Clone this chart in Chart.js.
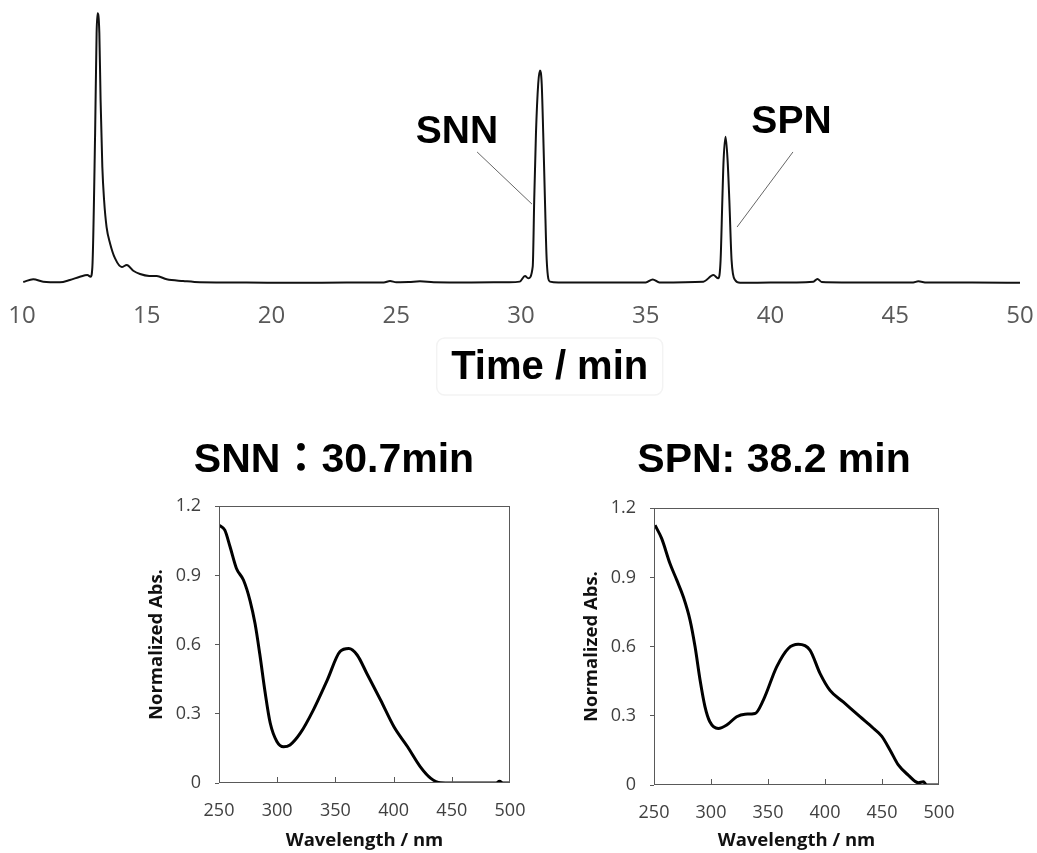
<!DOCTYPE html>
<html>
<head>
<meta charset="utf-8">
<script src="https://cdn.jsdelivr.net/npm/chart.js@4.4.1/dist/chart.umd.min.js"></script>
<style>
  html, body { margin: 0; padding: 0; background: #fff; }
  body { width: 1037px; height: 853px; position: relative; overflow: hidden; }
  .panel { position: absolute; }
</style>
</head>
<body>
<div class="panel" style="left:0;top:0;width:1037px;height:400px"><canvas id="chrom"></canvas></div>
<div class="panel" style="left:110px;top:420px;width:420px;height:433px"><canvas id="snn"></canvas></div>
<div class="panel" style="left:545px;top:422px;width:420px;height:431px"><canvas id="spn"></canvas></div>
<script>
// HPLC trace (time in min, detector signal in arbitrary units)
const chromTime = [10.05, 10.45, 10.85, 11.52, 11.92, 12.32, 12.62, 12.75, 12.82, 12.93, 12.99, 13.03, 13.1, 13.15,
  13.22, 13.29, 13.39, 13.53, 13.73, 14.0, 14.2, 14.46, 14.73, 15.1, 15.4, 15.8, 16.46, 17.13, 19.0, 21.0, 23.0,
  24.5, 24.75, 25.0, 25.5, 25.95, 26.5, 28.0, 29.5, 29.95, 30.16, 30.29, 30.47, 30.53, 30.6, 30.69, 30.76, 30.83,
  30.89, 30.96, 31.03, 31.16, 31.5, 33.0, 35.0, 35.28, 35.55, 37.31, 37.71, 37.91, 38.0, 38.07, 38.12, 38.2, 38.28,
  38.35, 38.44, 38.58, 38.78, 40.0, 41.72, 41.88, 42.05, 44.0, 45.72, 45.92, 46.26, 48.0, 50.0];
const chromSignal = [0.37, 1.35, 0.48, 0.26, 1.1, 2.3, 2.93, 2.3, 5.8, 54.6, 91.5, 98.8, 91.5, 67,
  42.5, 30.4, 20.5, 14.5, 9.0, 5.85, 6.6, 4.5, 3.3, 2.6, 2.56, 1.36, 0.73, 0.26, 0.15, 0.1, 0.15,
  0.2, 0.7, 0.3, 0.35, 0.6, 0.3, 0.2, 0.3, 0.5, 2.56, 1.7, 6, 30.4, 54.9, 73, 77.8, 73,
  55, 30.4, 8.4, 0.5, 0.2, 0.2, 0.2, 1.3, 0.2, 0.5, 2.9, 1.7, 8.4, 30.4, 45, 53.6, 45,
  30.4, 8.4, 1.1, 0.1, 0.15, 0.5, 1.5, 0.4, 0.2, 0.2, 0.6, 0.2, 0.15, 0.1];
const timeTicks = [10, 15, 20, 25, 30, 35, 40, 45, 50];

// UV-vis spectra of the two peaks
const snnWavelength = [250, 255, 259.5, 265, 271, 276.7, 281, 285, 289.7, 294, 299.7, 305.5, 311, 320, 331, 343,
  354, 361.5, 368.7, 377, 388.8, 400.3, 412, 423, 432, 440.5, 450, 470, 488, 491, 494, 500];
const snnAbs = [1.118, 1.096, 1.024, 0.93, 0.88, 0.79, 0.69, 0.56, 0.39, 0.26, 0.18, 0.157, 0.165, 0.217, 0.316, 0.446,
  0.57, 0.583, 0.555, 0.475, 0.36, 0.244, 0.157, 0.07, 0.02, 0.001, 0, 0, 0, 0.008, 0, 0];
const spnWavelength = [250.9, 256.7, 264, 270, 275.7, 281.6, 286, 290.4, 294.7, 299, 306.4, 313.8, 322.5, 329.8, 338.6,
  345.9, 357.6, 367.8, 376.6, 386.8, 395.6, 404.4, 416, 430.7, 442.4, 449.7, 457, 464.3, 473, 481.9, 486.3, 489, 500];
const spnAbs = [1.126, 1.069, 0.96, 0.888, 0.816, 0.715, 0.6, 0.455, 0.34, 0.274, 0.245, 0.26, 0.296, 0.307, 0.31,
  0.368, 0.512, 0.592, 0.61, 0.585, 0.484, 0.41, 0.36, 0.296, 0.246, 0.212, 0.152, 0.087, 0.043, 0.01, 0.014, 0, 0];
const wavelengthTicks = [250, 300, 350, 400, 450, 500];
const absTicks = [0, 0.3, 0.6, 0.9, 1.2];

// peak labels with their leader lines, in data units of the trace
const peakNames = ['SNN', 'SPN'];
const labelAt = [[27.43, 55.3], [40.84, 58.8]];
const leaderFrom = [[28.24, 48], [40.9, 48]];
const leaderTo = [[30.44, 28.9], [38.66, 20.5]];
const timeTitle = 'Time / min';
const timeTitleAt = 31.15;

const toPoints = (xs, ys) => xs.map((x, i) => ({ x: x, y: ys[i] }));

const peakLabelPlugin = {
  id: 'peakLabels',
  afterDatasetsDraw(chart) {
    const { ctx, scales: { x, y } } = chart;
    ctx.save();
    ctx.strokeStyle = '#666';
    ctx.lineWidth = 1;
    ctx.fillStyle = '#000';
    ctx.font = 'bold 39px "Liberation Sans", Arial, sans-serif';
    ctx.textAlign = 'center';
    ctx.textBaseline = 'middle';
    peakNames.forEach((name, i) => {
      ctx.beginPath();
      ctx.moveTo(x.getPixelForValue(leaderFrom[i][0]), y.getPixelForValue(leaderFrom[i][1]));
      ctx.lineTo(x.getPixelForValue(leaderTo[i][0]), y.getPixelForValue(leaderTo[i][1]));
      ctx.stroke();
      ctx.fillText(name, x.getPixelForValue(labelAt[i][0]), y.getPixelForValue(labelAt[i][1]));
    });

    // time axis title in its faint frame, below the tick labels
    const cx = x.getPixelForValue(timeTitleAt);
    const cy = x.bottom - 32;
    ctx.strokeStyle = '#f3f3f3';
    ctx.lineWidth = 1.5;
    ctx.beginPath();
    ctx.roundRect(cx - 113, cy - 30, 226, 57, 8);
    ctx.stroke();
    ctx.font = 'bold 40px "Liberation Sans", Arial, sans-serif';
    ctx.fillText(timeTitle, cx, cy);
    ctx.restore();
  }
};

// box around the plot area plus short inward ticks on the wavelength axis
const framePlugin = {
  id: 'frame',
  afterDatasetsDraw(chart) {
    const { ctx, chartArea: a, scales: { x } } = chart;
    ctx.save();
    ctx.strokeStyle = '#595959';
    ctx.lineWidth = 1;
    ctx.strokeRect(Math.round(a.left) + 0.5, Math.round(a.top) + 0.5,
      Math.round(a.right - a.left) - 1, Math.round(a.bottom - a.top) - 1);
    ctx.beginPath();
    x.ticks.forEach(t => {
      if (t.value <= x.min || t.value >= x.max) return;
      const px = Math.round(x.getPixelForValue(t.value)) + 0.5;
      ctx.moveTo(px, a.bottom);
      ctx.lineTo(px, a.bottom - 6);
    });
    ctx.stroke();
    ctx.restore();
  }
};

new Chart(document.getElementById('chrom'), {
  type: 'line',
  data: {
    datasets: [{
      data: toPoints(chromTime, chromSignal),
      borderColor: '#111',
      borderWidth: 2,
      pointRadius: 0,
      cubicInterpolationMode: 'monotone',
      clip: false
    }]
  },
  options: {
    responsive: true,
    maintainAspectRatio: false,
    animation: false,
    devicePixelRatio: 1,
    layout: { padding: { left: 22, right: 17, top: 10, bottom: 0 } },
    plugins: { legend: { display: false }, tooltip: { enabled: false } },
    scales: {
      x: {
        type: 'linear',
        min: 10,
        max: 50,
        afterBuildTicks: s => { s.ticks = timeTicks.map(v => ({ value: v })); },
        afterFit: s => { s.height = 117; },
        // hidden tick marks still push the labels down
        grid: { display: false, drawTicks: true, tickLength: 19 },
        border: { display: false },
        ticks: {
          padding: 0,
          color: '#595959',
          font: { family: '"Open Sans", sans-serif', size: 24 }
        }
      },
      y: { display: false, min: 0, max: 100 }
    }
  },
  plugins: [peakLabelPlugin]
});

function spectrumChart(id, titleText, xs, ys, geo) {
  return new Chart(document.getElementById(id), {
    type: 'line',
    data: {
      datasets: [{
        data: toPoints(xs, ys),
        borderColor: '#000',
        borderWidth: 3,
        pointRadius: 0,
        cubicInterpolationMode: 'monotone'
      }]
    },
    options: {
      responsive: true,
      maintainAspectRatio: false,
      animation: false,
      devicePixelRatio: 1,
      layout: { padding: { left: geo.padLeft, right: geo.padRight, top: 0, bottom: 0 } },
      plugins: {
        legend: { display: false },
        tooltip: { enabled: false },
        title: {
          display: true,
          text: titleText,
          color: '#000',
          padding: { top: geo.titleTop, bottom: geo.titleBottom },
          font: { family: '"Liberation Sans", Arial, "Noto Sans CJK JP", sans-serif', size: 41, weight: 'bold' }
        }
      },
      scales: {
        x: {
          type: 'linear',
          min: 250,
          max: 500,
          afterBuildTicks: s => { s.ticks = wavelengthTicks.map(v => ({ value: v })); },
          afterFit: s => { s.height = geo.xAxisHeight; },
          grid: { display: false, drawTicks: true, tickLength: 17 },
          border: { display: false },
          ticks: {
            padding: 0,
            color: '#404040',
            font: { family: '"Open Sans", sans-serif', size: 18 }
          },
          title: {
            display: true,
            text: 'Wavelength / nm',
            color: '#111',
            padding: { top: 0, bottom: 1 },
            font: { family: '"Open Sans", sans-serif', size: 18.5, weight: 'bold' }
          }
        },
        y: {
          min: 0,
          max: 1.2,
          afterBuildTicks: s => { s.ticks = absTicks.map(v => ({ value: v })); },
          afterFit: s => { s.width = geo.yAxisWidth; },
          grid: { display: true, drawOnChartArea: false, drawTicks: true, tickLength: 4, color: '#595959' },
          border: { display: false },
          ticks: {
            padding: 14,
            color: '#404040',
            font: { family: '"Open Sans", sans-serif', size: 18 },
            callback: v => (v === 0 ? '0' : v.toFixed(1))
          },
          title: {
            display: true,
            text: 'Normalized Abs.',
            color: '#111',
            padding: { top: geo.yTitleOffset, bottom: 0 },
            font: { family: '"Open Sans", sans-serif', size: 18.5, weight: 'bold' }
          }
        }
      }
    },
    plugins: [framePlugin]
  });
}

spectrumChart('snn', 'SNN：30.7min', snnWavelength, snnAbs,
  { padLeft: 48, padRight: 20, titleTop: 16, titleBottom: 21, xAxisHeight: 70, yAxisWidth: 61, yTitleOffset: -12 });
spectrumChart('spn', 'SPN: 38.2 min', spnWavelength, spnAbs,
  { padLeft: 64, padRight: 26, titleTop: 14, titleBottom: 23, xAxisHeight: 68, yAxisWidth: 45, yTitleOffset: -28 });
</script>
</body>
</html>
